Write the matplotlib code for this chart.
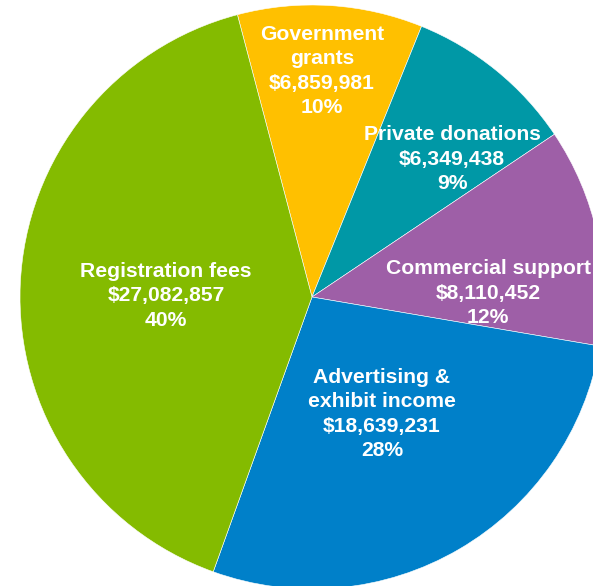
import matplotlib.pyplot as plt

# Revenue sources (USD)
categories = ['Government\ngrants', 'Private donations', 'Commercial support',
              'Advertising &\nexhibit income', 'Registration fees']
amounts = [6859981, 6349438, 8110452, 18639231, 27082857]
colors = ['#FFC000', '#0098A6', '#9E5FA7', '#0080C9', '#84BB00']

# label anchor points in pixel space
label_xy = [(322, 71), (452, 159), (488, 293), (382, 414), (166, 296)]

W, H = 593, 586
fig = plt.figure(figsize=(W / 100, H / 100), dpi=100)
ax = fig.add_axes([0, 0, 1, 1])

total = sum(amounts)
ax.pie(amounts, colors=colors, startangle=104.8, counterclock=False,
       center=(312, H - 297), radius=292,
       wedgeprops=dict(linewidth=0.4, edgecolor='white'),
       frame=True)
ax.set_xlim(0, W)
ax.set_ylim(0, H)
ax.set_aspect('equal')
ax.axis('off')

for name, val, (x, y) in zip(categories, amounts, label_xy):
    pct = round(val / total * 100)
    ax.text(x, H - y, f'{name}\n${val:,}\n{pct}%', ha='center', va='center',
            color='white', fontsize=15.2, fontweight='bold',
            family='Liberation Sans', linespacing=1.36)

fig.savefig('out.png', dpi=100)
